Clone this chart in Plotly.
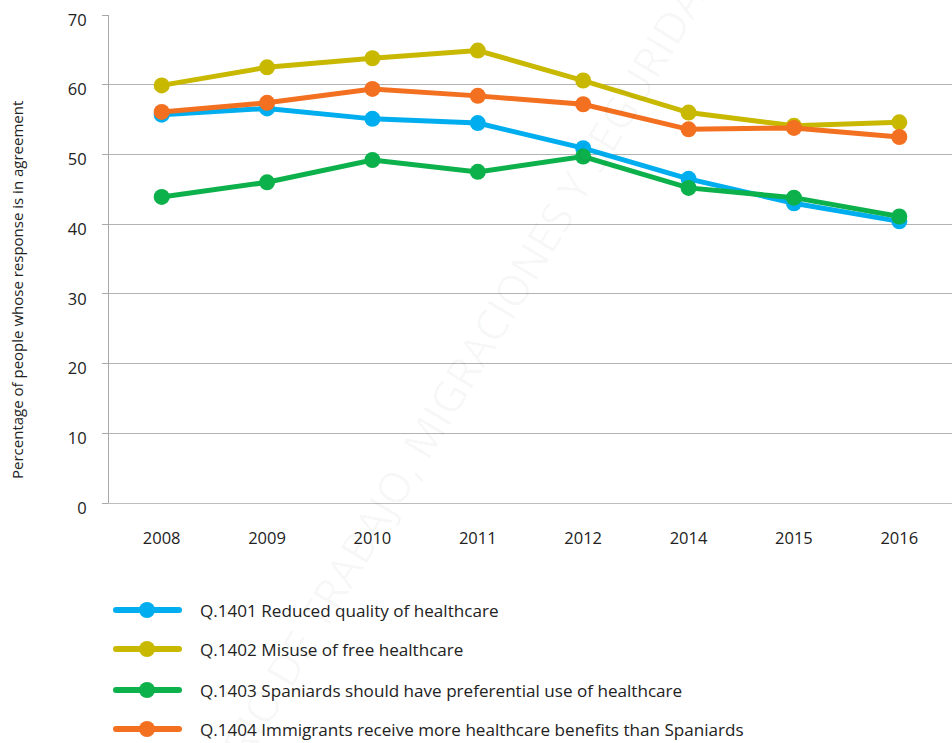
import plotly.graph_objects as go

# Survey years (2013 was not surveyed)
years = ["2008", "2009", "2010", "2011", "2012", "2014", "2015", "2016"]

# Percentage of respondents in agreement with each statement
q1401 = [55.7, 56.6, 55.1, 54.5, 50.9, 46.5, 43.0, 40.4]
q1402 = [59.9, 62.5, 63.8, 64.9, 60.6, 56.0, 54.1, 54.6]
q1403 = [43.9, 46.0, 49.2, 47.5, 49.7, 45.2, 43.8, 41.1]
q1404 = [56.1, 57.4, 59.4, 58.4, 57.2, 53.6, 53.8, 52.5]

series_names = [
    "Q.1401 Reduced quality of healthcare",
    "Q.1402 Misuse of free healthcare",
    "Q.1403 Spaniards should have preferential use of healthcare",
    "Q.1404 Immigrants receive more healthcare benefits than Spaniards",
]
series_values = [q1401, q1402, q1403, q1404]
series_colors = ["#00AEEF", "#C8B900", "#0DB14B", "#F37021"]

y_title = "Percentage of people whose response is in agreement"
watermark = "MINISTERIO DE TRABAJO, MIGRACIONES Y SEGURIDAD SOCIAL"

W, H = 952, 743
ML, MR, MT, MB = 109, 0, 15, 240
plot_w = W - ML - MR
plot_h = H - MT - MB
FONT = "'Open Sans', Lato, sans-serif"
TEXT = "#222222"


def px_x(px):
    return (px - ML) / plot_w


def px_y(py):
    return (H - MB - py) / plot_h


fig = go.Figure()
for name, vals, col in zip(series_names, series_values, series_colors):
    fig.add_trace(go.Scatter(
        x=years, y=vals, name=name, mode="lines+markers",
        line=dict(color=col, width=5),
        marker=dict(color=col, size=16),
        showlegend=False,
    ))

# Legend drawn as line keys with a dot, followed by the label
legend_rows = [610, 649, 690, 729]
key_x0, key_x1, key_dot = 116, 179, 147
shapes = []
annotations = []
for row_y, name, col in zip(legend_rows, series_names, series_colors):
    yy = px_y(row_y)
    shapes.append(dict(type="line", xref="paper", yref="paper",
                       x0=px_x(key_x0), x1=px_x(key_x1), y0=yy, y1=yy,
                       line=dict(color=col, width=6)))
    for ex in (key_x0, key_x1):
        shapes.append(dict(type="circle", xref="paper", yref="paper",
                           xsizemode="pixel", ysizemode="pixel",
                           xanchor=px_x(ex), yanchor=yy,
                           x0=-3, x1=3, y0=-3, y1=3,
                           fillcolor=col, line=dict(width=0)))
    shapes.append(dict(type="circle", xref="paper", yref="paper",
                       xsizemode="pixel", ysizemode="pixel",
                       xanchor=px_x(key_dot), yanchor=yy,
                       x0=-8, x1=8, y0=-8, y1=8,
                       fillcolor=col, line=dict(width=0)))
    annotations.append(dict(text=name, xref="paper", yref="paper",
                            x=px_x(198), y=yy, xanchor="left", yanchor="middle",
                            showarrow=False,
                            font=dict(family=FONT, size=17.1, color=TEXT)))

# Vertical axis title
annotations.append(dict(text=y_title, xref="paper", yref="paper",
                        x=px_x(17), y=px_y(290), xanchor="center", yanchor="middle",
                        textangle=-90, showarrow=False,
                        font=dict(family=FONT, size=15, color=TEXT)))

# Faint diagonal watermark
annotations.append(dict(text=watermark, xref="paper", yref="paper",
                        x=px_x(468), y=px_y(362), xanchor="center", yanchor="middle",
                        textangle=-59, showarrow=False,
                        font=dict(family=FONT, size=43, color="rgba(0,0,0,0.03)")))

fig.update_layout(
    width=W, height=H,
    margin=dict(l=ML, r=MR, t=MT, b=MB),
    paper_bgcolor="white", plot_bgcolor="white",
    font=dict(family=FONT, size=16.5, color=TEXT),
    shapes=shapes, annotations=annotations,
    showlegend=False,
)
fig.update_xaxes(
    type="category", range=[-0.5, 7.5],
    showline=True, linecolor="#BDBDBD", linewidth=1,
    showgrid=False, ticks="", zeroline=False,
    tickfont=dict(family=FONT, size=16.5, color=TEXT),
    ticklabelstandoff=20,
)
fig.update_yaxes(
    range=[0, 70], dtick=10,
    showline=True, linecolor="#A8A8A8", linewidth=1,
    showgrid=True, gridcolor="#B3B3B3", gridwidth=1,
    ticks="outside", ticklen=6, tickcolor="#A8A8A8",
    zeroline=False,
    tickfont=dict(family=FONT, size=16.5, color=TEXT),
    ticklabelstandoff=12, ticklabelshift=5,
)

fig.write_html("out.html")
